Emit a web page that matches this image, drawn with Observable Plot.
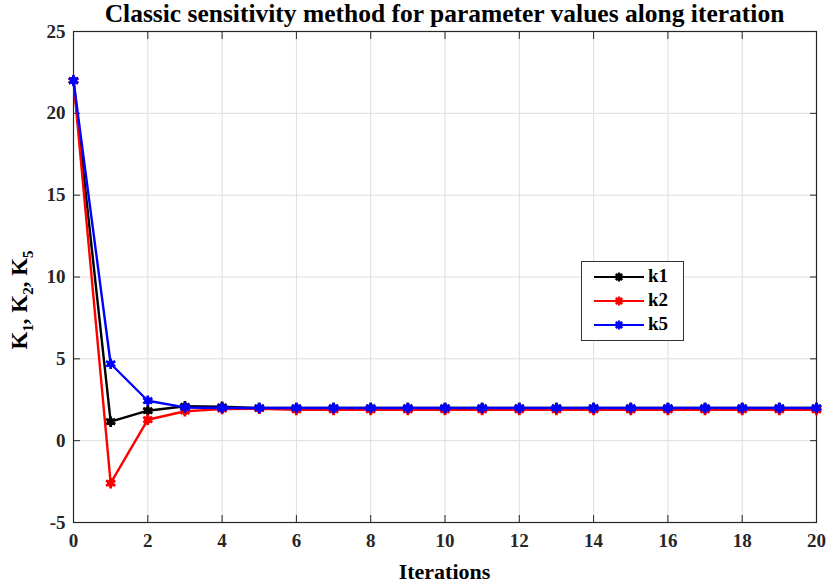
<!DOCTYPE html>
<html><head><meta charset="utf-8">
<script src="https://cdn.jsdelivr.net/npm/d3@7"></script>
<script src="https://cdn.jsdelivr.net/npm/@observablehq/plot@0.6"></script>
<style>
body{margin:0;background:#fff;}
#wrap{position:relative;width:827px;height:587px;font-family:"Liberation Serif","Times New Roman",serif;}
#title{position:absolute;left:72px;width:745px;top:0px;text-align:center;font-weight:bold;font-size:25.5px;line-height:28px;}
#chart{position:absolute;left:0;top:0;}
#ylab{position:absolute;left:22px;top:300px;transform:translate(-50%,-50%) rotate(-90deg);white-space:nowrap;font-weight:bold;font-size:23px;}
#ylab sub{font-size:15px;}
#legend{position:absolute;left:581px;top:261px;width:101px;height:78px;border:1px solid #333;background:#fff;font-weight:bold;font-size:19px;}
.li{position:absolute;left:0;height:24px;width:100%;}
.li svg{position:absolute;left:12px;top:3px;}
.li span{position:absolute;left:66px;top:0px;line-height:22px;}
</style></head>
<body><div id="wrap"><div id="chart"></div><div id="title">Classic sensitivity method for parameter values along iteration</div>
<div id="ylab">K<sub>1</sub>, K<sub>2</sub>, K<sub>5</sub></div>
<div id="legend"></div></div>
<script>
const iterations = d3.range(0, 21);
const k1 = [22, 1.16, 1.83, 2.1, 2.07, 2.0, 2.0, 2.0, 2.0, 2.0, 2.0, 2.0, 2.0, 2.0, 2.0, 2.0, 2.0, 2.0, 2.0, 2.0, 2.0];
const k2 = [22, -2.6, 1.28, 1.8, 1.93, 1.95, 1.88, 1.88, 1.88, 1.88, 1.88, 1.88, 1.88, 1.88, 1.88, 1.88, 1.88, 1.88, 1.88, 1.88, 1.88];
const k5 = [22, 4.7, 2.44, 2.03, 2.0, 2.0, 2.0, 2.0, 2.0, 2.0, 2.0, 2.0, 2.0, 2.0, 2.0, 2.0, 2.0, 2.0, 2.0, 2.0, 2.0];
const seriesNames = ["k1", "k2", "k5"];
const seriesColors = ["#000000", "#ff0000", "#0000ff"];
const xTicks = d3.range(0, 21, 2);
const yTicks = [-5, 0, 5, 10, 15, 20, 25];

const allSeries = [k1, k2, k5];
const data = allSeries.flatMap((vals, si) => vals.map((v, i) => ({it: iterations[i], v, s: seriesNames[si]})));

const marks = [
  Plot.gridX(xTicks, {stroke: "#dedede", strokeOpacity: 1, strokeWidth: 1}),
  Plot.gridY(yTicks, {stroke: "#dedede", strokeOpacity: 1, strokeWidth: 1}),
  Plot.frame({stroke: "#262626", strokeWidth: 1.2}),
  Plot.axisX(xTicks, {anchor: "bottom", tickSize: -7, tickPadding: 18, tickFormat: d => String(d), label: null, stroke: "#262626", fontSize: 19, fontWeight: "bold", fill: "#262626"}),
  Plot.axisX(xTicks, {anchor: "top", tickSize: -7, tickFormat: () => "", label: null, stroke: "#262626"}),
  Plot.axisY(yTicks, {anchor: "left", tickSize: -7, tickPadding: 15, tickFormat: d => String(d), label: null, stroke: "#262626", fontSize: 19, fontWeight: "bold", fill: "#262626"}),
  Plot.axisY(yTicks, {anchor: "right", tickSize: -7, tickFormat: () => "", label: null, stroke: "#262626"})
];
seriesNames.forEach((name, si) => {
  const d = data.filter(r => r.s === name);
  marks.push(Plot.line(d, {x: "it", y: "v", stroke: seriesColors[si], strokeWidth: 2.4}));
  marks.push(Plot.dot(d, {x: "it", y: "v", symbol: "asterisk", r: 5, stroke: seriesColors[si], strokeWidth: 2.8}));
  marks.push(Plot.dot(d, {x: "it", y: "v", r: 3.6, fill: seriesColors[si], stroke: "none"}));
});

const chart = Plot.plot({
  width: 827, height: 587,
  marginLeft: 73, marginRight: 11, marginTop: 31, marginBottom: 65,
  x: {domain: [0, 20]},
  y: {domain: [-5, 25]},
  style: {fontFamily: "'Liberation Serif','Times New Roman',serif", overflow: "visible", background: "#fff"},
  marks
});
document.getElementById("chart").appendChild(chart);

// x axis title
const xt = document.createElement("div");
xt.textContent = "Iterations";
xt.style.cssText = "position:absolute;left:73px;width:743px;top:559px;text-align:center;font-weight:bold;font-size:22px;";
document.getElementById("wrap").appendChild(xt);

// legend
const leg = document.getElementById("legend");
seriesNames.forEach((name, si) => {
  const row = document.createElement("div");
  row.className = "li";
  row.style.top = (3 + si * 24) + "px";
  const c = seriesColors[si];
  row.innerHTML = `<svg width="52" height="18"><line x1="0" y1="9" x2="50" y2="9" stroke="${c}" stroke-width="2.2"/>` +
    `<g transform="translate(25,9)" stroke="${c}" stroke-width="2.4"><line x1="-4.5" y1="0" x2="4.5" y2="0"/><line x1="0" y1="-4.5" x2="0" y2="4.5"/><line x1="-3.2" y1="-3.2" x2="3.2" y2="3.2"/><line x1="-3.2" y1="3.2" x2="3.2" y2="-3.2"/></g>` +
    `<circle cx="25" cy="9" r="3" fill="${c}"/></svg><span>${name}</span>`;
  leg.appendChild(row);
});
</script></body></html>
